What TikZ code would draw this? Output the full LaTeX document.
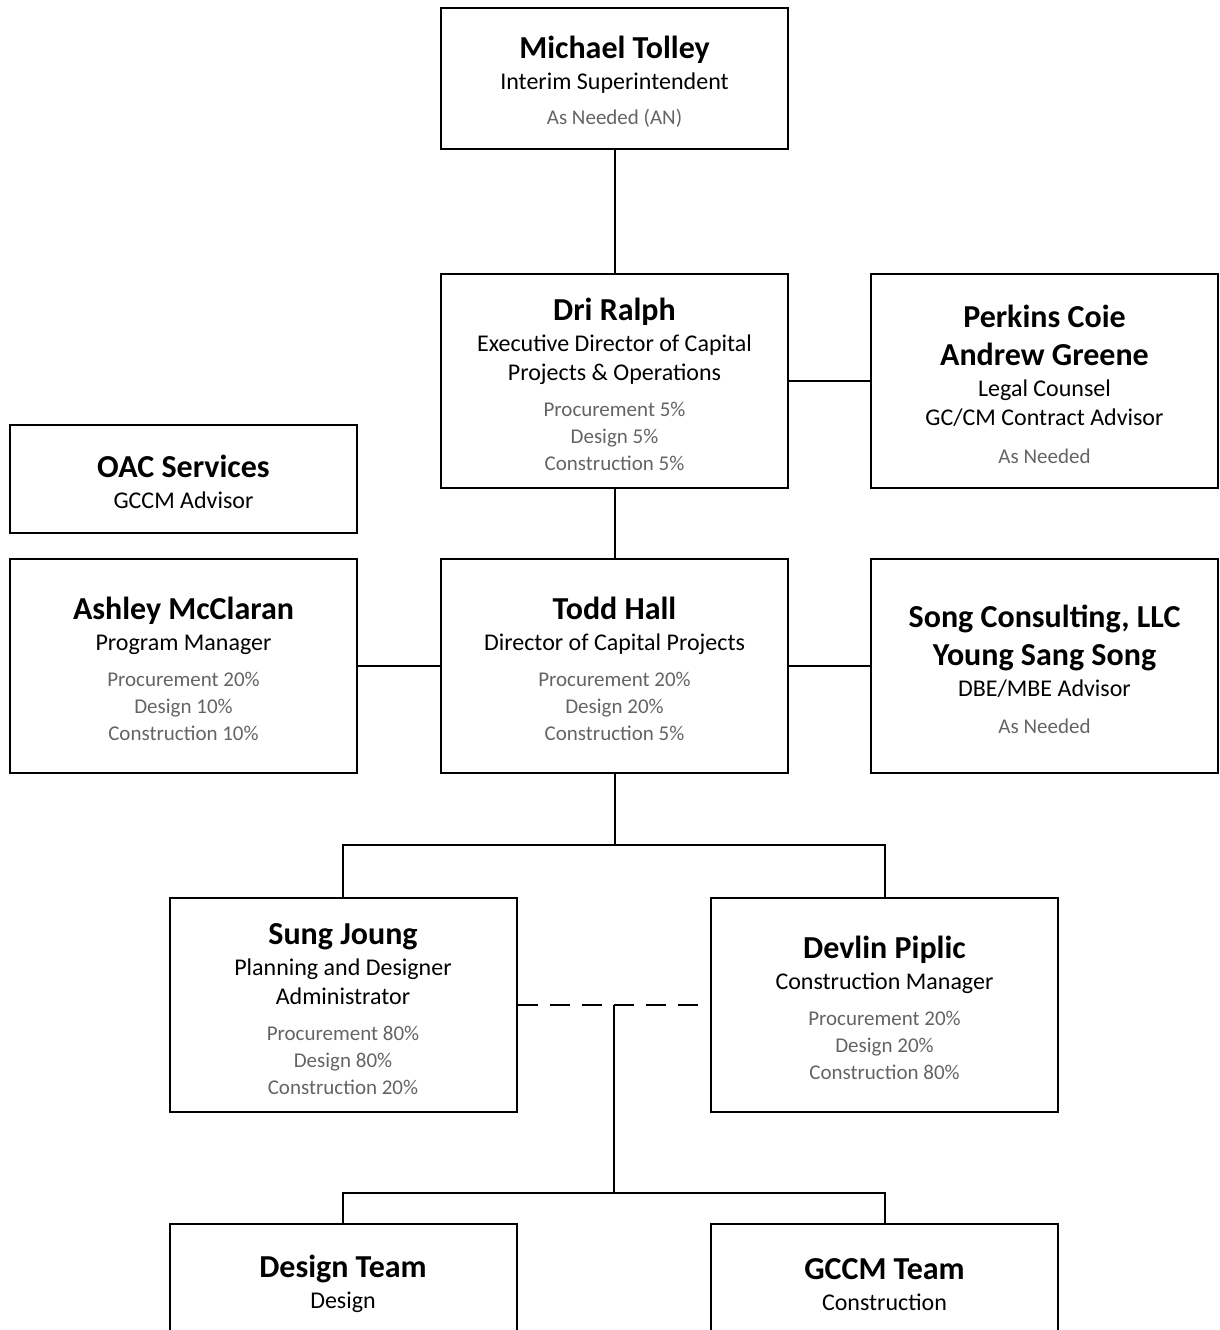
\documentclass[tikz,border=0pt]{standalone}
\usepackage{fontspec}
\setmainfont{Carlito}
\usepackage{xcolor}
\usepackage{tikz}
\usetikzlibrary{positioning,calc}
\definecolor{notegray}{HTML}{646464}
\newcommand{\nm}[1]{{\fontsize{32}{27}\selectfont\bfseries\rule{0pt}{29pt}#1}}
\newcommand{\nmb}[1]{{\fontsize{32}{27}\selectfont\bfseries #1}}
\newcommand{\pc}[1]{{\fontsize{21}{27}\selectfont\color{notegray}#1}}
\tikzset{
  box/.style={draw,line width=2pt,minimum width=347pt,minimum height=214pt,align=center,inner sep=0pt,font=\fontsize{24}{27}\selectfont},
  link/.style={line width=2pt},
  dashlink/.style={line width=2pt,dash pattern=on 20pt off 12pt}
}

\begin{document}
\begin{tikzpicture}[x=1pt,y=1pt]
  \clip (0,0) rectangle (1219,-1330);
  \node[box,minimum height=141pt] (tolley) at (614.5,-78.5) {\nm{Michael Tolley}\\[4pt] Interim Superintendent\\[8pt] \pc{As Needed (AN)}};
  \node[box,below=123pt of tolley] (ralph) {\nm{Dri Ralph}\\[4pt] Executive Director of Capital\\[2pt] Projects \& Operations\\[9pt] \pc{Procurement 5\%}\\ \pc{Design 5\%}\\ \pc{Construction 5\%}};
  \node[box,right=81pt of ralph] (perkins) {\nm{Perkins Coie}\\[11pt] \nmb{Andrew Greene}\\[4pt] Legal Counsel\\[2pt] GC/CM Contract Advisor\\[11pt] \pc{As Needed}};
  \node[box,below=69pt of ralph] (todd) {\nm{Todd Hall}\\[4pt] Director of Capital Projects\\[9pt] \pc{Procurement 20\%}\\ \pc{Design 20\%}\\ \pc{Construction 5\%}};
  \node[box,left=82pt of todd] (ashley) {\nm{Ashley McClaran}\\[4pt] Program Manager\\[9pt] \pc{Procurement 20\%}\\ \pc{Design 10\%}\\ \pc{Construction 10\%}};
  \node[box,minimum height=108pt,above=24pt of ashley] (oac) {\nm{OAC Services}\\[4pt] GCCM Advisor};
  \node[box,right=81pt of todd] (song) {\nm{Song Consulting, LLC}\\[11pt] \nmb{Young Sang Song}\\[4pt] DBE/MBE Advisor\\[10pt] \pc{As Needed}};
  \node[box,below=123pt of todd,xshift=-271.5pt] (sung) {\nm{Sung Joung}\\[4pt] Planning and Designer\\[2pt] Administrator\\[9pt] \pc{Procurement 80\%}\\ \pc{Design 80\%}\\ \pc{Construction 20\%}};
  \node[box,below=123pt of todd,xshift=270pt] (devlin) {\nm{Devlin Piplic}\\[4pt] Construction Manager\\[9pt] \pc{Procurement 20\%}\\ \pc{Design 20\%}\\ \pc{Construction 80\%}};
  \node[box,minimum height=114pt,below=110pt of sung] (design) {\nm{Design Team}\\[4pt] Design};
  \node[box,minimum height=114pt,below=110pt of devlin] (gccm) {\nm{GCCM Team}\\[4pt] Construction};

  \coordinate (bus1) at ($(todd.south)+(0,-71pt)$);
  \coordinate (mid) at ($(sung.east)!0.5!(devlin.west)$);
  \coordinate (bus2) at ($(mid |- design.north)+(0,30pt)$);

  \draw[link] (tolley) -- (ralph);
  \draw[link] (ralph) -- (perkins);
  \draw[link] (ralph) -- (todd);
  \draw[link] (ashley) -- (todd);
  \draw[link] (todd) -- (song);
  \draw[link] (todd.south) -- (bus1);
  \draw[link] (sung.north) |- (bus1) -| (devlin.north);
  \draw[dashlink] (sung.east) -- (devlin.west);
  \draw[link] (mid) -- (bus2);
  \draw[link] (design.north) |- (bus2) -| (gccm.north);
\end{tikzpicture}
\end{document}
